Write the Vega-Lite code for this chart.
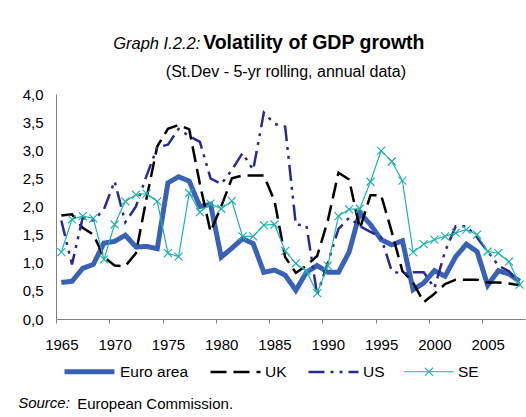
{
  "$schema": "https://vega.github.io/schema/vega-lite/v6.json",
  "background": "white",
  "autosize": {"type": "pad"},
  "padding": {"left": 18, "top": 32, "right": 0, "bottom": 4},
  "config": {
    "font": "Liberation Sans",
    "locale": {"number": {"decimal": ",", "thousands": ".", "grouping": [3], "currency": ["", " €"]}},
    "view": {"stroke": null},
    "title": {"color": "black", "fontWeight": "normal", "font": "Liberation Sans"},
    "concat": {"spacing": 0},
    "axis": {"labelFont": "Liberation Sans", "labelColor": "black"},
    "axisY": {"labelOverlap": false},
    "legend": {"labelFont": "Liberation Sans", "labelColor": "black"}
  },
  "title": {"text": "Graph I.2.2:", "orient": "top", "anchor": "start", "frame": "bounds", "fontSize": 16.5, "fontStyle": "italic", "dx": 95, "dy": 20, "offset": 0},
  "vconcat": [
    {
      "title": {"text": "Volatility of GDP growth", "orient": "top", "anchor": "start", "frame": "bounds", "fontSize": 19.5, "fontWeight": "bold", "dx": 185, "offset": 11},
      "vconcat": [
        {
          "title": {"text": "Source:", "orient": "bottom", "anchor": "start", "frame": "bounds", "fontSize": 15, "fontStyle": "italic", "dx": -4, "dy": -16, "offset": 0},
          "vconcat": [
            {
              "title": {"text": "European Commission.", "orient": "bottom", "anchor": "start", "frame": "bounds", "fontSize": 15, "dx": 55, "offset": 15},
              "resolve": {
                "scale": {"color": "independent", "strokeDash": "independent", "strokeWidth": "independent"},
                "legend": {"color": "independent", "strokeDash": "independent", "strokeWidth": "independent"}
              },
              "vconcat": [
                {
                  "title": {"text": "(St.Dev - 5-yr rolling, annual data)", "orient": "top", "anchor": "middle", "frame": "bounds", "fontSize": 16, "dx": 10, "offset": 7},
                  "width": 469,
                  "height": 225,
                  "data": {
                    "values": [
                      {"year": 1965, "Euro area": 0.65, "UK": 1.84, "US": 1.75, "SE": 1.19},
                      {"year": 1966, "Euro area": 0.67, "UK": 1.86, "US": 0.97, "SE": 1.77},
                      {"year": 1967, "Euro area": 0.90, "UK": 1.62, "US": 1.80, "SE": 1.83},
                      {"year": 1968, "Euro area": 0.97, "UK": 1.50, "US": 1.75, "SE": 1.79},
                      {"year": 1969, "Euro area": 1.35, "UK": 1.10, "US": 1.95, "SE": 1.06},
                      {"year": 1970, "Euro area": 1.38, "UK": 0.95, "US": 2.45, "SE": 1.68},
                      {"year": 1971, "Euro area": 1.49, "UK": 0.94, "US": 1.72, "SE": 2.09},
                      {"year": 1972, "Euro area": 1.28, "UK": 1.17, "US": 2.00, "SE": 2.21},
                      {"year": 1973, "Euro area": 1.29, "UK": 2.15, "US": 2.55, "SE": 2.23},
                      {"year": 1974, "Euro area": 1.25, "UK": 3.07, "US": 3.05, "SE": 2.09},
                      {"year": 1975, "Euro area": 2.42, "UK": 3.38, "US": 3.10, "SE": 1.17},
                      {"year": 1976, "Euro area": 2.53, "UK": 3.45, "US": 3.38, "SE": 1.11},
                      {"year": 1977, "Euro area": 2.45, "UK": 3.37, "US": 3.25, "SE": 2.24},
                      {"year": 1978, "Euro area": 2.00, "UK": 2.40, "US": 3.15, "SE": 1.90},
                      {"year": 1979, "Euro area": 2.04, "UK": 1.55, "US": 2.50, "SE": 2.05},
                      {"year": 1980, "Euro area": 1.10, "UK": 2.00, "US": 2.40, "SE": 1.96},
                      {"year": 1981, "Euro area": 1.26, "UK": 2.50, "US": 2.65, "SE": 2.10},
                      {"year": 1982, "Euro area": 1.43, "UK": 2.55, "US": 2.95, "SE": 1.47},
                      {"year": 1983, "Euro area": 1.34, "UK": 2.55, "US": 2.65, "SE": 1.47},
                      {"year": 1984, "Euro area": 0.83, "UK": 2.55, "US": 3.67, "SE": 1.67},
                      {"year": 1985, "Euro area": 0.87, "UK": 2.10, "US": 3.47, "SE": 1.68},
                      {"year": 1986, "Euro area": 0.78, "UK": 1.10, "US": 3.42, "SE": 1.21},
                      {"year": 1987, "Euro area": 0.51, "UK": 0.82, "US": 1.68, "SE": 0.99},
                      {"year": 1988, "Euro area": 0.83, "UK": 0.95, "US": 1.66, "SE": 0.85},
                      {"year": 1989, "Euro area": 0.95, "UK": 1.12, "US": 0.43, "SE": 0.46},
                      {"year": 1990, "Euro area": 0.83, "UK": 1.75, "US": 1.00, "SE": 0.95},
                      {"year": 1991, "Euro area": 0.83, "UK": 2.60, "US": 1.60, "SE": 1.83},
                      {"year": 1992, "Euro area": 1.19, "UK": 2.48, "US": 1.80, "SE": 1.95},
                      {"year": 1993, "Euro area": 1.89, "UK": 1.60, "US": 1.65, "SE": 1.96},
                      {"year": 1994, "Euro area": 1.68, "UK": 2.20, "US": 1.55, "SE": 2.44},
                      {"year": 1995, "Euro area": 1.41, "UK": 2.20, "US": 1.45, "SE": 2.99},
                      {"year": 1996, "Euro area": 1.32, "UK": 1.55, "US": 0.85, "SE": 2.80},
                      {"year": 1997, "Euro area": 1.39, "UK": 0.85, "US": 0.80, "SE": 2.46},
                      {"year": 1998, "Euro area": 0.52, "UK": 0.65, "US": 0.83, "SE": 1.19},
                      {"year": 1999, "Euro area": 0.64, "UK": 0.30, "US": 0.83, "SE": 1.33},
                      {"year": 2000, "Euro area": 0.86, "UK": 0.45, "US": 0.55, "SE": 1.41},
                      {"year": 2001, "Euro area": 0.76, "UK": 0.62, "US": 1.20, "SE": 1.47},
                      {"year": 2002, "Euro area": 1.11, "UK": 0.70, "US": 1.65, "SE": 1.53},
                      {"year": 2003, "Euro area": 1.33, "UK": 0.70, "US": 1.65, "SE": 1.59},
                      {"year": 2004, "Euro area": 1.20, "UK": 0.70, "US": 1.45, "SE": 1.50},
                      {"year": 2005, "Euro area": 0.60, "UK": 0.65, "US": 1.20, "SE": 1.20},
                      {"year": 2006, "Euro area": 0.86, "UK": 0.65, "US": 0.95, "SE": 1.17},
                      {"year": 2007, "Euro area": 0.80, "UK": 0.63, "US": 0.85, "SE": 1.02},
                      {"year": 2008, "Euro area": 0.67, "UK": 0.60, "US": 0.62, "SE": 0.61}
                    ]
                  },
                  "transform": [{"fold": ["Euro area", "UK", "US", "SE"], "as": ["series", "value"]}],
                  "encoding": {
                    "x": {
                      "field": "year", "type": "quantitative",
                      "scale": {"domain": [1964.5, 2008.5], "nice": false, "zero": false},
                      "axis": {"values": [1965, 1970, 1975, 1980, 1985, 1990, 1995, 2000, 2005], "format": "d", "title": null, "grid": false, "tickOffset": -5.33, "labelOffset": 5.33, "tickSize": 4, "tickColor": "#808080", "domainColor": "#808080", "labelFontSize": 15, "labelPadding": 14, "labelFlush": false, "labelOverlap": false}
                    },
                    "y": {
                      "field": "value", "type": "quantitative",
                      "scale": {"domain": [0, 4], "nice": false},
                      "axis": {"values": [0, 0.5, 1, 1.5, 2, 2.5, 3, 3.5, 4], "format": ".1f", "title": null, "grid": false, "ticks": false, "domainColor": "#808080", "labelFontSize": 15, "labelPadding": 13, "labelOverlap": false, "labelSeparation": 0}
                    }
                  },
                  "layer": [
                    {
                      "mark": {"type": "line", "strokeCap": "butt"},
                      "encoding": {
                        "color": {
                          "field": "series", "type": "nominal",
                          "scale": {"domain": ["Euro area", "UK", "US", "SE"], "range": ["#3a62b4", "#000000", "#2b2a8c", "#1fb2ad"]},
                          "legend": {"orient": "none", "legendX": 6, "legendY": 250, "direction": "horizontal", "title": null, "symbolType": "stroke", "symbolSize": 2500, "labelFontSize": 15.5, "labelOffset": 3, "columnPadding": 16, "labelLimit": 200,
                            "encode": {"symbols": {"update": {"shape": {"signal": "datum.value === 'SE' ? 'M-1,0L1,0M-0.16,-0.16L0.16,0.16M-0.16,0.16L0.16,-0.16' : 'stroke'"}}}}}
                        },
                        "strokeDash": {
                          "field": "series", "type": "nominal",
                          "scale": {"domain": ["Euro area", "UK", "US", "SE"], "range": [[1, 0], [16, 7], [16, 6, 3, 6, 3, 6], [1, 0]]}
                        },
                        "strokeWidth": {
                          "field": "series", "type": "nominal",
                          "scale": {"type": "ordinal", "domain": ["Euro area", "UK", "US", "SE"], "range": [5, 2.5, 2.5, 1.2]}
                        }
                      }
                    },
                    {
                      "transform": [{"filter": {"field": "series", "equal": "SE"}}],
                      "mark": {"type": "point", "shape": "M-1,-1L1,1M-1,1L1,-1", "filled": false, "size": 64, "strokeWidth": 1.2, "color": "#1fb2ad", "opacity": 1}
                    }
                  ]
                }
              ]
            }
          ]
        }
      ]
    }
  ]
}
